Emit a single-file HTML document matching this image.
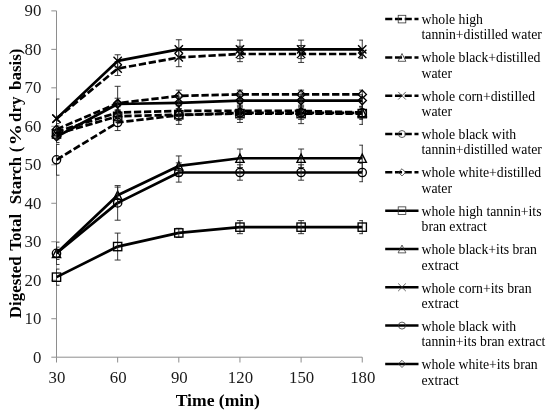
<!DOCTYPE html>
<html><head><meta charset="utf-8"><title>Digested Total Starch</title>
<style>html,body{margin:0;padding:0;background:#fff}body{width:550px;height:414px;overflow:hidden}</style></head>
<body>
<svg width="550" height="414" viewBox="0 0 550 414" style="display:block;will-change:transform">
<rect width="550" height="414" fill="#fff"/>
<defs><clipPath id="pa"><rect x="56.2" y="5" width="306.8" height="357"/></clipPath></defs>
<g stroke="#8e8e8e" stroke-width="1" fill="none" shape-rendering="auto">
<path d="M56.5 10.88V357.2"/>
<path d="M56.5 357.2H362.25"/>
<path d="M51.3 357.20H56.5"/>
<path d="M51.3 318.72H56.5"/>
<path d="M51.3 280.24H56.5"/>
<path d="M51.3 241.76H56.5"/>
<path d="M51.3 203.28H56.5"/>
<path d="M51.3 164.80H56.5"/>
<path d="M51.3 126.32H56.5"/>
<path d="M51.3 87.84H56.5"/>
<path d="M51.3 49.36H56.5"/>
<path d="M51.3 10.88H56.5"/>
<path d="M56.50 357.2v5.3"/>
<path d="M117.65 357.2v5.3"/>
<path d="M178.80 357.2v5.3"/>
<path d="M239.95 357.2v5.3"/>
<path d="M301.10 357.2v5.3"/>
<path d="M362.25 357.2v5.3"/>
</g>
<g font-family="'Liberation Serif', 'Times New Roman', serif" font-size="16.8" fill="#1a1a1a">
<text x="41.3" y="362.80" text-anchor="end">0</text>
<text x="41.3" y="324.32" text-anchor="end">10</text>
<text x="41.3" y="285.84" text-anchor="end">20</text>
<text x="41.3" y="247.36" text-anchor="end">30</text>
<text x="41.3" y="208.88" text-anchor="end">40</text>
<text x="41.3" y="170.40" text-anchor="end">50</text>
<text x="41.3" y="131.92" text-anchor="end">60</text>
<text x="41.3" y="93.44" text-anchor="end">70</text>
<text x="41.3" y="54.96" text-anchor="end">80</text>
<text x="41.3" y="16.48" text-anchor="end">90</text>
<text x="57.00" y="383.3" text-anchor="middle">30</text>
<text x="118.15" y="383.3" text-anchor="middle">60</text>
<text x="179.30" y="383.3" text-anchor="middle">90</text>
<text x="240.45" y="383.3" text-anchor="middle">120</text>
<text x="301.60" y="383.3" text-anchor="middle">150</text>
<text x="362.75" y="383.3" text-anchor="middle">180</text>
</g>
<g font-family="'Liberation Serif', 'Times New Roman', serif" font-weight="bold" fill="#000">
<text x="217.8" y="406.3" font-size="17.6" text-anchor="middle">Time (min)</text>
<text transform="translate(21.3 318.2) rotate(-90)" font-size="16.9">Digested</text>
<text transform="translate(21.3 250.8) rotate(-90)" font-size="16.9">Total</text>
<text transform="translate(21.3 204.3) rotate(-90)" font-size="16.9">Starch</text>
<text transform="translate(21.3 152.2) rotate(-90)" font-size="16.9">(</text>
<text transform="translate(21.3 122.0) rotate(-90)" font-size="16.9">dry</text>
<text transform="translate(21.3 89.9) rotate(-90)" font-size="16.9">basis)</text>
<text transform="translate(21.3 145.4) rotate(-90) scale(1.27 1)" font-size="16.9">%</text>
</g>
<polyline points="56.50,134.02 117.65,116.32 178.80,114.78 239.95,113.62 301.10,113.62 362.25,113.62" fill="none" stroke="#000" stroke-width="2.7" stroke-linejoin="round" stroke-dasharray="7.3 2.75"/>
<g stroke="#222" stroke-width="0.9" fill="none" clip-path="url(#pa)"><path d="M56.50 128.24V139.79M53.50 128.24h6M53.50 139.79h6"/><path d="M117.65 110.54V122.09M114.65 110.54h6M114.65 122.09h6"/><path d="M178.80 109.00V120.55M175.80 109.00h6M175.80 120.55h6"/><path d="M239.95 107.85V119.39M236.95 107.85h6M236.95 119.39h6"/><path d="M301.10 107.85V119.39M298.10 107.85h6M298.10 119.39h6"/><path d="M362.25 107.85V119.39M359.25 107.85h6M359.25 119.39h6"/></g>
<rect x="52.35" y="129.87" width="8.30" height="8.30" fill="none" stroke="#000" stroke-width="1.35"/>
<rect x="113.50" y="112.17" width="8.30" height="8.30" fill="none" stroke="#000" stroke-width="1.35"/>
<rect x="174.65" y="110.63" width="8.30" height="8.30" fill="none" stroke="#000" stroke-width="1.35"/>
<rect x="235.80" y="109.47" width="8.30" height="8.30" fill="none" stroke="#000" stroke-width="1.35"/>
<rect x="296.95" y="109.47" width="8.30" height="8.30" fill="none" stroke="#000" stroke-width="1.35"/>
<rect x="358.10" y="109.47" width="8.30" height="8.30" fill="none" stroke="#000" stroke-width="1.35"/>
<polyline points="56.50,131.71 117.65,112.47 178.80,110.93 239.95,110.93 301.10,110.93 362.25,112.47" fill="none" stroke="#000" stroke-width="2.7" stroke-linejoin="round" stroke-dasharray="7.3 2.75"/>
<g stroke="#222" stroke-width="0.9" fill="none" clip-path="url(#pa)"><path d="M56.50 125.94V137.48M53.50 125.94h6M53.50 137.48h6"/><path d="M117.65 106.70V118.24M114.65 106.70h6M114.65 118.24h6"/><path d="M178.80 105.16V116.70M175.80 105.16h6M175.80 116.70h6"/><path d="M239.95 105.16V116.70M236.95 105.16h6M236.95 116.70h6"/><path d="M301.10 105.16V116.70M298.10 105.16h6M298.10 116.70h6"/><path d="M362.25 106.70V118.24M359.25 106.70h6M359.25 118.24h6"/></g>
<path d="M56.50 127.56L60.65 135.86L52.35 135.86Z" fill="none" stroke="#000" stroke-width="1.35"/>
<path d="M117.65 108.32L121.80 116.62L113.50 116.62Z" fill="none" stroke="#000" stroke-width="1.35"/>
<path d="M178.80 106.78L182.95 115.08L174.65 115.08Z" fill="none" stroke="#000" stroke-width="1.35"/>
<path d="M239.95 106.78L244.10 115.08L235.80 115.08Z" fill="none" stroke="#000" stroke-width="1.35"/>
<path d="M301.10 106.78L305.25 115.08L296.95 115.08Z" fill="none" stroke="#000" stroke-width="1.35"/>
<path d="M362.25 108.32L366.40 116.62L358.10 116.62Z" fill="none" stroke="#000" stroke-width="1.35"/>
<polyline points="56.50,118.62 117.65,68.60 178.80,57.44 239.95,53.98 301.10,53.98 362.25,53.98" fill="none" stroke="#000" stroke-width="2.7" stroke-linejoin="round" stroke-dasharray="7.3 2.75"/>
<g stroke="#222" stroke-width="0.9" fill="none" clip-path="url(#pa)"><path d="M56.50 99.00V138.25M53.50 99.00h6M53.50 138.25h6"/><path d="M117.65 61.67V75.53M114.65 61.67h6M114.65 75.53h6"/><path d="M178.80 48.21V66.68M175.80 48.21h6M175.80 66.68h6"/><path d="M239.95 46.28V61.67M236.95 46.28h6M236.95 61.67h6"/><path d="M301.10 45.51V62.44M298.10 45.51h6M298.10 62.44h6"/><path d="M362.25 50.13V57.83M359.25 50.13h6M359.25 57.83h6"/></g>
<path d="M52.35 114.47L60.65 122.77M52.35 122.77L60.65 114.47" fill="none" stroke="#000" stroke-width="1.35"/>
<path d="M113.50 64.45L121.80 72.75M113.50 72.75L121.80 64.45" fill="none" stroke="#000" stroke-width="1.35"/>
<path d="M174.65 53.29L182.95 61.59M174.65 61.59L182.95 53.29" fill="none" stroke="#000" stroke-width="1.35"/>
<path d="M235.80 49.83L244.10 58.13M235.80 58.13L244.10 49.83" fill="none" stroke="#000" stroke-width="1.35"/>
<path d="M296.95 49.83L305.25 58.13M296.95 58.13L305.25 49.83" fill="none" stroke="#000" stroke-width="1.35"/>
<path d="M358.10 49.83L366.40 58.13M358.10 58.13L366.40 49.83" fill="none" stroke="#000" stroke-width="1.35"/>
<polyline points="56.50,159.80 117.65,122.47 178.80,115.16 239.95,112.85 301.10,112.85 362.25,112.85" fill="none" stroke="#000" stroke-width="2.7" stroke-linejoin="round" stroke-dasharray="7.3 2.75"/>
<g stroke="#222" stroke-width="0.9" fill="none" clip-path="url(#pa)"><path d="M56.50 144.41V175.19M53.50 144.41h6M53.50 175.19h6"/><path d="M117.65 114.39V130.55M114.65 114.39h6M114.65 130.55h6"/><path d="M178.80 105.93V124.40M175.80 105.93h6M175.80 124.40h6"/><path d="M239.95 103.23V122.47M236.95 103.23h6M236.95 122.47h6"/><path d="M301.10 102.08V123.63M298.10 102.08h6M298.10 123.63h6"/><path d="M362.25 101.31V124.40M359.25 101.31h6M359.25 124.40h6"/></g>
<circle cx="56.50" cy="159.80" r="4.15" fill="none" stroke="#000" stroke-width="1.35"/>
<circle cx="117.65" cy="122.47" r="4.15" fill="none" stroke="#000" stroke-width="1.35"/>
<circle cx="178.80" cy="115.16" r="4.15" fill="none" stroke="#000" stroke-width="1.35"/>
<circle cx="239.95" cy="112.85" r="4.15" fill="none" stroke="#000" stroke-width="1.35"/>
<circle cx="301.10" cy="112.85" r="4.15" fill="none" stroke="#000" stroke-width="1.35"/>
<circle cx="362.25" cy="112.85" r="4.15" fill="none" stroke="#000" stroke-width="1.35"/>
<polyline points="56.50,129.40 117.65,103.23 178.80,95.92 239.95,94.38 301.10,94.38 362.25,94.38" fill="none" stroke="#000" stroke-width="2.7" stroke-linejoin="round" stroke-dasharray="7.3 2.75"/>
<g stroke="#222" stroke-width="0.9" fill="none" clip-path="url(#pa)"><path d="M56.50 123.63V135.17M53.50 123.63h6M53.50 135.17h6"/><path d="M117.65 86.30V120.16M114.65 86.30h6M114.65 120.16h6"/><path d="M178.80 90.15V101.69M175.80 90.15h6M175.80 101.69h6"/><path d="M239.95 90.15V98.61M236.95 90.15h6M236.95 98.61h6"/><path d="M301.10 90.15V98.61M298.10 90.15h6M298.10 98.61h6"/><path d="M362.25 90.15V98.61M359.25 90.15h6M359.25 98.61h6"/></g>
<path d="M56.50 125.25L60.65 129.40L56.50 133.55L52.35 129.40Z" fill="none" stroke="#000" stroke-width="1.35"/>
<path d="M117.65 99.08L121.80 103.23L117.65 107.38L113.50 103.23Z" fill="none" stroke="#000" stroke-width="1.35"/>
<path d="M178.80 91.77L182.95 95.92L178.80 100.07L174.65 95.92Z" fill="none" stroke="#000" stroke-width="1.35"/>
<path d="M239.95 90.23L244.10 94.38L239.95 98.53L235.80 94.38Z" fill="none" stroke="#000" stroke-width="1.35"/>
<path d="M301.10 90.23L305.25 94.38L301.10 98.53L296.95 94.38Z" fill="none" stroke="#000" stroke-width="1.35"/>
<path d="M362.25 90.23L366.40 94.38L362.25 98.53L358.10 94.38Z" fill="none" stroke="#000" stroke-width="1.35"/>
<polyline points="56.50,277.16 117.65,246.57 178.80,232.91 239.95,227.14 301.10,227.14 362.25,227.14" fill="none" stroke="#000" stroke-width="2.7" stroke-linejoin="round"/>
<g stroke="#222" stroke-width="0.9" fill="none" clip-path="url(#pa)"><path d="M56.50 269.08V285.24M53.50 269.08h6M53.50 285.24h6"/><path d="M117.65 233.10V260.04M114.65 233.10h6M114.65 260.04h6"/><path d="M178.80 228.29V237.53M175.80 228.29h6M175.80 237.53h6"/><path d="M239.95 220.60V233.68M236.95 220.60h6M236.95 233.68h6"/><path d="M301.10 220.60V233.68M298.10 220.60h6M298.10 233.68h6"/><path d="M362.25 220.60V233.68M359.25 220.60h6M359.25 233.68h6"/></g>
<rect x="52.35" y="273.01" width="8.30" height="8.30" fill="none" stroke="#000" stroke-width="1.35"/>
<rect x="113.50" y="242.42" width="8.30" height="8.30" fill="none" stroke="#000" stroke-width="1.35"/>
<rect x="174.65" y="228.76" width="8.30" height="8.30" fill="none" stroke="#000" stroke-width="1.35"/>
<rect x="235.80" y="222.99" width="8.30" height="8.30" fill="none" stroke="#000" stroke-width="1.35"/>
<rect x="296.95" y="222.99" width="8.30" height="8.30" fill="none" stroke="#000" stroke-width="1.35"/>
<rect x="358.10" y="222.99" width="8.30" height="8.30" fill="none" stroke="#000" stroke-width="1.35"/>
<polyline points="56.50,253.30 117.65,195.20 178.80,165.95 239.95,158.26 301.10,158.26 362.25,158.26" fill="none" stroke="#000" stroke-width="2.7" stroke-linejoin="round"/>
<g stroke="#222" stroke-width="0.9" fill="none" clip-path="url(#pa)"><path d="M56.50 242.14V264.46M53.50 242.14h6M53.50 264.46h6"/><path d="M117.65 187.12V203.28M114.65 187.12h6M114.65 203.28h6"/><path d="M178.80 155.95V175.96M175.80 155.95h6M175.80 175.96h6"/><path d="M239.95 149.02V167.49M236.95 149.02h6M236.95 167.49h6"/><path d="M301.10 149.02V167.49M298.10 149.02h6M298.10 167.49h6"/><path d="M362.25 145.18V171.34M359.25 145.18h6M359.25 171.34h6"/></g>
<path d="M56.50 249.15L60.65 257.45L52.35 257.45Z" fill="none" stroke="#000" stroke-width="1.35"/>
<path d="M117.65 191.05L121.80 199.35L113.50 199.35Z" fill="none" stroke="#000" stroke-width="1.35"/>
<path d="M178.80 161.80L182.95 170.10L174.65 170.10Z" fill="none" stroke="#000" stroke-width="1.35"/>
<path d="M239.95 154.11L244.10 162.41L235.80 162.41Z" fill="none" stroke="#000" stroke-width="1.35"/>
<path d="M301.10 154.11L305.25 162.41L296.95 162.41Z" fill="none" stroke="#000" stroke-width="1.35"/>
<path d="M362.25 154.11L366.40 162.41L358.10 162.41Z" fill="none" stroke="#000" stroke-width="1.35"/>
<polyline points="56.50,118.62 117.65,60.90 178.80,49.36 239.95,49.36 301.10,49.36 362.25,49.36" fill="none" stroke="#000" stroke-width="2.7" stroke-linejoin="round"/>
<g stroke="#222" stroke-width="0.9" fill="none" clip-path="url(#pa)"><path d="M56.50 116.32V120.93M53.50 116.32h6M53.50 120.93h6"/><path d="M117.65 54.75V67.06M114.65 54.75h6M114.65 67.06h6"/><path d="M178.80 39.74V58.98M175.80 39.74h6M175.80 58.98h6"/><path d="M239.95 40.12V58.60M236.95 40.12h6M236.95 58.60h6"/><path d="M301.10 40.12V58.60M298.10 40.12h6M298.10 58.60h6"/><path d="M362.25 40.12V58.60M359.25 40.12h6M359.25 58.60h6"/></g>
<path d="M52.35 114.47L60.65 122.77M52.35 122.77L60.65 114.47" fill="none" stroke="#000" stroke-width="1.35"/>
<path d="M113.50 56.75L121.80 65.05M113.50 65.05L121.80 56.75" fill="none" stroke="#000" stroke-width="1.35"/>
<path d="M174.65 45.21L182.95 53.51M174.65 53.51L182.95 45.21" fill="none" stroke="#000" stroke-width="1.35"/>
<path d="M235.80 45.21L244.10 53.51M235.80 53.51L244.10 45.21" fill="none" stroke="#000" stroke-width="1.35"/>
<path d="M296.95 45.21L305.25 53.51M296.95 53.51L305.25 45.21" fill="none" stroke="#000" stroke-width="1.35"/>
<path d="M358.10 45.21L366.40 53.51M358.10 53.51L366.40 45.21" fill="none" stroke="#000" stroke-width="1.35"/>
<polyline points="56.50,253.30 117.65,202.90 178.80,172.50 239.95,172.50 301.10,172.50 362.25,172.50" fill="none" stroke="#000" stroke-width="2.7" stroke-linejoin="round"/>
<g stroke="#222" stroke-width="0.9" fill="none" clip-path="url(#pa)"><path d="M56.50 247.15V259.46M53.50 247.15h6M53.50 259.46h6"/><path d="M117.65 185.58V220.21M114.65 185.58h6M114.65 220.21h6"/><path d="M178.80 162.88V182.12M175.80 162.88h6M175.80 182.12h6"/><path d="M239.95 164.80V180.19M236.95 164.80h6M236.95 180.19h6"/><path d="M301.10 164.80V180.19M298.10 164.80h6M298.10 180.19h6"/><path d="M362.25 163.26V181.73M359.25 163.26h6M359.25 181.73h6"/></g>
<circle cx="56.50" cy="253.30" r="4.15" fill="none" stroke="#000" stroke-width="1.35"/>
<circle cx="117.65" cy="202.90" r="4.15" fill="none" stroke="#000" stroke-width="1.35"/>
<circle cx="178.80" cy="172.50" r="4.15" fill="none" stroke="#000" stroke-width="1.35"/>
<circle cx="239.95" cy="172.50" r="4.15" fill="none" stroke="#000" stroke-width="1.35"/>
<circle cx="301.10" cy="172.50" r="4.15" fill="none" stroke="#000" stroke-width="1.35"/>
<circle cx="362.25" cy="172.50" r="4.15" fill="none" stroke="#000" stroke-width="1.35"/>
<polyline points="56.50,136.71 117.65,104.00 178.80,102.85 239.95,100.54 301.10,100.54 362.25,100.54" fill="none" stroke="#000" stroke-width="2.7" stroke-linejoin="round"/>
<g stroke="#222" stroke-width="0.9" fill="none" clip-path="url(#pa)"><path d="M56.50 130.94V142.48M53.50 130.94h6M53.50 142.48h6"/><path d="M117.65 98.23V109.77M114.65 98.23h6M114.65 109.77h6"/><path d="M178.80 97.08V108.62M175.80 97.08h6M175.80 108.62h6"/><path d="M239.95 94.77V106.31M236.95 94.77h6M236.95 106.31h6"/><path d="M301.10 94.77V106.31M298.10 94.77h6M298.10 106.31h6"/><path d="M362.25 94.77V106.31M359.25 94.77h6M359.25 106.31h6"/></g>
<path d="M56.50 132.56L60.65 136.71L56.50 140.86L52.35 136.71Z" fill="none" stroke="#000" stroke-width="1.35"/>
<path d="M117.65 99.85L121.80 104.00L117.65 108.15L113.50 104.00Z" fill="none" stroke="#000" stroke-width="1.35"/>
<path d="M178.80 98.70L182.95 102.85L178.80 107.00L174.65 102.85Z" fill="none" stroke="#000" stroke-width="1.35"/>
<path d="M239.95 96.39L244.10 100.54L239.95 104.69L235.80 100.54Z" fill="none" stroke="#000" stroke-width="1.35"/>
<path d="M301.10 96.39L305.25 100.54L301.10 104.69L296.95 100.54Z" fill="none" stroke="#000" stroke-width="1.35"/>
<path d="M362.25 96.39L366.40 100.54L362.25 104.69L358.10 100.54Z" fill="none" stroke="#000" stroke-width="1.35"/>
<g font-family="'Liberation Serif', 'Times New Roman', serif" font-size="13.75" fill="#000">
<path d="M385.2 19.10H418.5" stroke="#000" stroke-width="2.5" fill="none" stroke-dasharray="7.1 2.65"/>
<rect x="398.20" y="15.30" width="7.60" height="7.60" fill="none" stroke="#333" stroke-width="0.8"/>
<text x="421.5" y="23.90">whole high</text>
<text x="421.5" y="39.25">tannin+distilled water</text>
<path d="M385.2 57.41H418.5" stroke="#000" stroke-width="2.5" fill="none" stroke-dasharray="7.1 2.65"/>
<path d="M402.00 53.51L405.90 61.31L398.10 61.31Z" fill="none" stroke="#333" stroke-width="0.8"/>
<text x="421.5" y="62.28">whole black+distilled</text>
<text x="421.5" y="77.63">water</text>
<path d="M385.2 95.72H418.5" stroke="#000" stroke-width="2.5" fill="none" stroke-dasharray="7.1 2.65"/>
<path d="M398.20 91.92L405.80 99.52M398.20 99.52L405.80 91.92" fill="none" stroke="#333" stroke-width="0.8"/>
<text x="421.5" y="100.66">whole corn+distilled</text>
<text x="421.5" y="116.01">water</text>
<path d="M385.2 134.03H418.5" stroke="#000" stroke-width="2.5" fill="none" stroke-dasharray="7.1 2.65"/>
<circle cx="402.00" cy="134.03" r="3.50" fill="none" stroke="#333" stroke-width="0.8"/>
<text x="421.5" y="139.04">whole black with</text>
<text x="421.5" y="154.39">tannin+distilled water</text>
<path d="M385.2 172.34H418.5" stroke="#000" stroke-width="2.5" fill="none" stroke-dasharray="7.1 2.65"/>
<path d="M402.00 168.74L405.60 172.34L402.00 175.94L398.40 172.34Z" fill="none" stroke="#333" stroke-width="0.8"/>
<text x="421.5" y="177.42">whole white+distilled</text>
<text x="421.5" y="192.77">water</text>
<path d="M385.2 210.65H418.5" stroke="#000" stroke-width="2.5" fill="none"/>
<rect x="398.20" y="206.85" width="7.60" height="7.60" fill="none" stroke="#333" stroke-width="0.8"/>
<text x="421.5" y="215.80">whole high tannin+its</text>
<text x="421.5" y="231.15">bran extract</text>
<path d="M385.2 248.96H418.5" stroke="#000" stroke-width="2.5" fill="none"/>
<path d="M402.00 245.06L405.90 252.86L398.10 252.86Z" fill="none" stroke="#333" stroke-width="0.8"/>
<text x="421.5" y="254.18">whole black+its bran</text>
<text x="421.5" y="269.53">extract</text>
<path d="M385.2 287.27H418.5" stroke="#000" stroke-width="2.5" fill="none"/>
<path d="M398.20 283.47L405.80 291.07M398.20 291.07L405.80 283.47" fill="none" stroke="#333" stroke-width="0.8"/>
<text x="421.5" y="292.56">whole corn+its bran</text>
<text x="421.5" y="307.91">extract</text>
<path d="M385.2 325.58H418.5" stroke="#000" stroke-width="2.5" fill="none"/>
<circle cx="402.00" cy="325.58" r="3.50" fill="none" stroke="#333" stroke-width="0.8"/>
<text x="421.5" y="330.94">whole black with</text>
<text x="421.5" y="346.29">tannin+its bran extract</text>
<path d="M385.2 363.89H418.5" stroke="#000" stroke-width="2.5" fill="none"/>
<path d="M402.00 360.29L405.60 363.89L402.00 367.49L398.40 363.89Z" fill="none" stroke="#333" stroke-width="0.8"/>
<text x="421.5" y="369.32">whole white+its bran</text>
<text x="421.5" y="384.67">extract</text>
</g>
</svg>
</body></html>
